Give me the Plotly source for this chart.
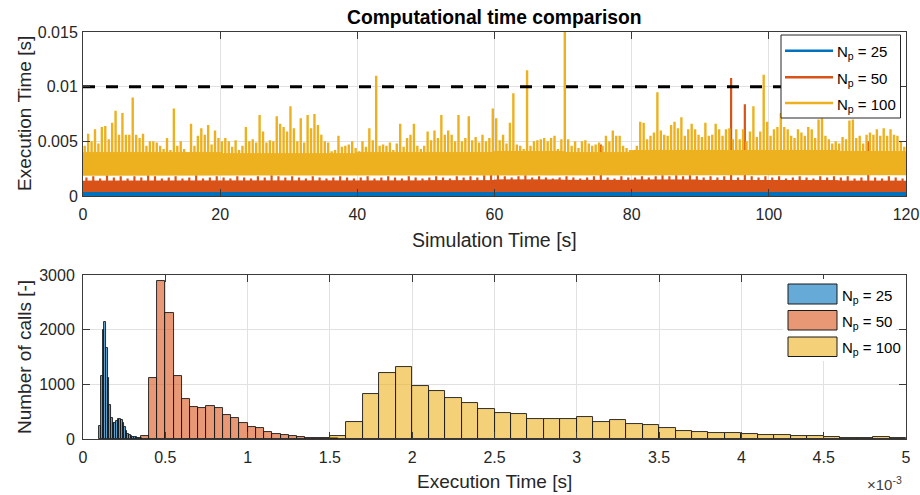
import numpy as np
import plotly.graph_objects as go

# ====================== DATA ======================
# Top panel: execution time per call vs. simulation time (values in ms,
# read off the picture as per-bin envelopes of the dense series)
sim_end_s = 120
block_s = 10                 # block length for the dense band limits
np100_bin_s = 0.5            # peak bins
np50_bin_s = 1.0
np25_bin_s = 2.0

np100_peak_ms = [
    4.6, 5.7, 5.0, 6.1, 4.8, 6.3, 6.4, 5.2, 6.7, 7.8,
    5.6, 7.6, 5.6, 5.6, 9.0, 5.6, 5.3, 5.7, 4.6, 5.0,
    5.0, 4.9, 4.6, 4.3, 5.3, 4.2, 8.0, 4.6, 5.0, 4.3,
    4.0, 6.6, 4.6, 5.5, 6.2, 5.6, 6.5, 4.7, 6.0, 5.3,
    5.0, 5.3, 5.0, 4.5, 5.1, 4.2, 4.6, 6.3, 5.0, 5.2,
    4.9, 7.4, 5.9, 4.9, 5.1, 5.0, 7.3, 6.6, 6.3, 5.9,
    8.2, 6.2, 5.0, 7.1, 4.9, 7.4, 6.2, 7.5, 6.5, 5.6,
    5.0, 4.9, 4.1, 4.2, 5.5, 4.5, 4.6, 4.7, 5.0, 4.4,
    4.1, 5.0, 4.5, 6.2, 5.1, 11.0, 4.6, 4.7, 4.6, 4.9,
    4.2, 4.8, 6.6, 4.5, 5.3, 5.6, 6.6, 4.6, 4.3, 4.6,
    5.9, 5.1, 6.0, 5.3, 7.4, 5.6, 6.0, 5.6, 5.0, 7.4,
    5.0, 5.3, 7.3, 5.1, 5.4, 4.9, 5.6, 5.0, 5.3, 8.0,
    7.1, 5.1, 5.6, 4.8, 6.7, 9.4, 4.7, 4.6, 4.3, 11.5,
    4.6, 5.0, 5.1, 5.2, 5.3, 5.0, 5.3, 5.5, 4.3, 5.2,
    15.2, 5.2, 4.6, 5.0, 4.4, 5.0, 5.1, 4.8, 4.6, 4.7,
    4.9, 4.6, 5.5, 5.0, 6.0, 5.5, 5.5, 4.6, 4.4, 4.2,
    4.1, 4.6, 6.8, 6.7, 5.2, 5.5, 5.8, 9.5, 6.0, 5.6,
    5.5, 6.5, 6.8, 6.2, 7.2, 5.5, 6.1, 6.6, 6.1, 5.6,
    5.4, 6.7, 5.5, 5.6, 6.6, 6.1, 5.5, 6.1, 6.2, 5.2,
    6.1, 5.2, 6.1, 5.0, 5.9, 8.2, 5.4, 5.9, 11.1, 6.8,
    5.5, 6.1, 6.3, 7.6, 6.3, 6.1, 5.5, 5.3, 6.1, 5.8,
    5.5, 6.3, 6.1, 5.3, 7.0, 7.1, 5.5, 5.2, 4.8, 5.0,
    4.8, 5.4, 5.2, 6.9, 7.0, 5.3, 5.5, 4.8, 5.6, 5.8,
    5.6, 6.1, 5.5, 6.2, 5.5, 6.1, 5.6, 5.5, 5.0, 4.5,
]
np100_dense_ms = [3.9, 3.9, 3.8, 3.8, 3.9, 3.9, 4.0, 3.9, 4.1, 4.1, 4.1, 4.0]
np100_low_ms = [1.95, 1.95, 1.95, 1.95, 1.95, 1.95, 2.0, 2.0, 2.0, 2.0, 2.0, 2.0]

np50_peak_ms = [
    1.7, 1.8, 1.6, 1.9, 1.7, 1.8, 1.6, 1.8, 1.7, 1.9,
    1.8, 1.6, 1.7, 1.8, 1.6, 1.7, 1.9, 1.6, 1.7, 1.8,
    1.7, 1.6, 1.8, 1.7, 1.6, 1.8, 1.7, 1.9, 1.8, 1.7,
    1.8, 1.7, 1.6, 1.8, 1.7, 1.6, 1.7, 1.8, 1.7, 1.6,
    1.7, 1.8, 1.6, 1.7, 1.8, 1.7, 1.6, 1.8, 1.7, 1.6,
    1.7, 1.8, 1.7, 1.6, 1.8, 1.7, 1.8, 1.7, 1.9, 2.0,
    2.0, 1.8, 1.7, 1.8, 1.9, 1.7, 1.8, 1.7, 1.6, 1.7,
    1.8, 1.7, 1.6, 1.7, 1.8, 4.7, 1.7, 1.6, 1.8, 1.7,
    1.7, 1.8, 1.7, 1.8, 1.9, 1.8, 1.9, 1.8, 1.9, 1.8,
    1.7, 1.8, 1.7, 1.8, 10.8, 1.7, 8.4, 1.8, 1.7, 1.8,
    1.7, 1.8, 1.6, 1.7, 1.8, 1.7, 1.6, 1.8, 1.7, 1.8,
    1.7, 1.8, 1.6, 1.7, 5.0, 1.7, 1.6, 1.8, 1.7, 1.6,
]
np50_dense_ms = [1.3, 1.3, 1.3, 1.3, 1.3, 1.35, 1.4, 1.35, 1.4, 1.35, 1.35, 1.3]
np50_low_ms = [0.45, 0.45, 0.45, 0.45, 0.45, 0.45, 0.45, 0.45, 0.45, 0.45, 0.45, 0.45]

np25_peak_ms = [
    0.40, 0.35, 0.40, 0.38, 0.42, 0.36, 0.40, 0.38, 0.35, 0.40,
    0.42, 0.38, 0.36, 0.40, 0.45, 0.38, 0.36, 0.40, 0.38, 0.35,
    0.40, 0.38, 0.36, 0.40, 0.38, 0.42, 0.40, 0.38, 0.45, 0.55,
    0.70, 0.50, 0.40, 0.38, 0.40, 0.36, 0.38, 0.40, 0.42, 0.38,
    0.40, 0.36, 0.42, 0.40, 0.38, 0.45, 0.40, 0.38, 0.36, 0.40,
    0.38, 0.40, 0.42, 0.38, 0.36, 0.40, 0.38, 0.42, 0.38, 0.36,
]
np25_dense_ms = [0.28, 0.28, 0.28, 0.28, 0.28, 0.30, 0.30, 0.28, 0.28, 0.28, 0.28, 0.28]
np25_low_ms = [0.08, 0.08, 0.08, 0.08, 0.08, 0.08, 0.08, 0.08, 0.08, 0.08, 0.08, 0.08]

limit_s = 0.01

# Bottom panel: histograms of execution time (bin edges in ms)
hist25_start_ms, hist25_width_ms = 0.10, 0.01
hist25_counts = [240, 1150, 1990, 2140, 1660, 1110, 630, 390, 300, 300,
                 330, 360, 370, 340, 290, 220, 150, 100, 70, 50,
                 40, 35, 30, 25, 20, 15]
hist50_start_ms, hist50_width_ms = 0.35, 0.05
hist50_counts = [60, 1125, 2890, 2300, 1145, 735, 577, 560, 600, 560,
                 437, 376, 291, 219, 194, 121, 85, 67, 49, 36,
                 22, 15, 15, 10]
hist100_start_ms, hist100_width_ms = 1.5, 0.1
hist100_counts = [55, 304, 820, 1214, 1318, 978, 886, 747, 650, 553,
                  468, 450, 370, 370, 370, 395, 316, 340, 267, 249,
                  194, 146, 121, 109, 109, 91, 73, 73, 55, 55,
                  36, 18, 18, 36, 12]

labels = ["N<sub>p</sub> = 25", "N<sub>p</sub> = 50", "N<sub>p</sub> = 100"]
x1_ticks = [0, 20, 40, 60, 80, 100, 120]
y1_ticks = [0, 0.005, 0.01, 0.015]
y1_ticktext = ["0", "0.005", "0.01", "0.015"]
x2_ticks = [0, 0.5, 1, 1.5, 2, 2.5, 3, 3.5, 4, 4.5, 5]
x2_ticktext = ["0", "0.5", "1", "1.5", "2", "2.5", "3", "3.5", "4", "4.5", "5"]
y2_ticks = [0, 1000, 2000, 3000]

# ====================== STYLE ======================
C_BLUE, C_ORANGE, C_YELLOW = "#0072BD", "#D95319", "#EDB120"
F_BLUE, F_ORANGE, F_YELLOW = ("rgba(0,114,189,0.6)", "rgba(217,83,25,0.6)",
                              "rgba(237,177,32,0.6)")
FONT = "Liberation Sans, Arial, Helvetica, sans-serif"
TXT = "#262626"
W, H = 920, 495
ML, MR, MT, MB = 83, 14, 32, 56
PW, PH = W - ML - MR, H - MT - MB


def px(xp):  # page pixel -> paper x
    return (xp - ML) / PW


def py(yp):  # page pixel -> paper y
    return (H - MB - yp) / PH


ms = 1e-3
fig = go.Figure()


def band(low, dense, color):
    edges = np.arange(len(low) + 1) * block_s
    xs = np.column_stack([edges[:-1], edges[1:]]).ravel()
    up = np.repeat(np.asarray(dense) * ms, 2)
    lo = np.repeat(np.asarray(low) * ms, 2)
    fig.add_trace(go.Scatter(
        x=np.concatenate([xs, xs[::-1]]), y=np.concatenate([up, lo[::-1]]),
        fill="toself", fillcolor=color, mode="lines",
        line=dict(color=color, width=2), showlegend=False, hoverinfo="skip"))


def spikes(peaks, bin_s, dense, color, width):
    centers = (np.arange(len(peaks)) + 0.5) * bin_s
    base = np.asarray(dense)[(centers // block_s).astype(int)] * ms
    xs = np.repeat(centers, 3)
    ys = np.column_stack([base, np.asarray(peaks) * ms, base]).ravel()
    fig.add_trace(go.Scatter(x=xs, y=ys, mode="lines",
                             line=dict(color=color, width=width),
                             showlegend=False, hoverinfo="skip"))


band(np25_low_ms, np25_dense_ms, C_BLUE)
spikes(np25_peak_ms, np25_bin_s, np25_dense_ms, C_BLUE, 2)
band(np50_low_ms, np50_dense_ms, C_ORANGE)
spikes(np50_peak_ms, np50_bin_s, np50_dense_ms, C_ORANGE, 2.2)
band(np100_low_ms, np100_dense_ms, C_YELLOW)
spikes(np100_peak_ms, np100_bin_s, np100_dense_ms, C_YELLOW, 2.4)

fig.add_trace(go.Scatter(x=[0, sim_end_s], y=[limit_s, limit_s], mode="lines",
                         line=dict(color="black", width=3, dash="12px,11px"),
                         showlegend=False, hoverinfo="skip"))

# histograms
for start, width, counts, fc in [
        (hist25_start_ms, hist25_width_ms, hist25_counts, F_BLUE),
        (hist50_start_ms, hist50_width_ms, hist50_counts, F_ORANGE),
        (hist100_start_ms, hist100_width_ms, hist100_counts, F_YELLOW)]:
    centers = start + (np.arange(len(counts)) + 0.5) * width
    fig.add_trace(go.Bar(x=centers, y=counts, width=width, xaxis="x2", yaxis="y2",
                         marker=dict(color=fc, line=dict(color="#1a1a1a", width=0.9)),
                         showlegend=False, hoverinfo="skip"))

axis_common = dict(showline=True, linecolor="#3a3a3a", linewidth=1, mirror="ticks",
                   ticks="inside", ticklen=7, tickcolor="#3a3a3a", automargin=False,
                   showgrid=True, gridcolor="#e1e1e1", gridwidth=1, zeroline=False,
                   tickfont=dict(family=FONT, size=16, color=TXT))

top_lo, top_hi = py(196), 1.0
bot_lo, bot_hi = 0.0, py(275)

fig.update_layout(
    width=W, height=H, autosize=False,
    margin=dict(l=ML, r=MR, t=MT, b=MB, autoexpand=False),
    paper_bgcolor="white", plot_bgcolor="white", barmode="overlay", bargap=0,
    showlegend=False, font=dict(family=FONT, color=TXT, size=16),
    xaxis=dict(axis_common, domain=[0, 1], range=[0, sim_end_s], tickvals=x1_ticks,
               anchor="y", ticklabelstandoff=4),
    yaxis=dict(axis_common, domain=[top_lo, top_hi], range=[0, 0.015],
               tickvals=y1_ticks, ticktext=y1_ticktext, anchor="x", ticklabelstandoff=1),
    xaxis2=dict(axis_common, domain=[0, 1], range=[0, 5], tickvals=x2_ticks,
                ticktext=x2_ticktext, anchor="y2", ticklabelstandoff=4),
    yaxis2=dict(axis_common, domain=[bot_lo, bot_hi], range=[0, 3000],
                tickvals=y2_ticks, anchor="x2", ticklabelstandoff=4),
)

ann = []


def text(x, y, s, size, **kw):
    d = dict(xref="paper", yref="paper", x=x, y=y, text=s, showarrow=False,
             font=dict(family=FONT, size=size, color=kw.pop("color", TXT)))
    d.update(kw)
    ann.append(d)


text(px(494.5), py(17.5), "<b>Computational time comparison</b>", 19.3,
     color="black", xanchor="center", yanchor="middle")
text(px(494.5), py(240), "Simulation Time [s]", 19.5, xanchor="center", yanchor="middle")
text(px(494.5), py(481), "Execution Time [s]", 19, xanchor="center", yanchor="middle")
text(px(24), py(114), "Execution Time [s]", 19, textangle=-90,
     xanchor="center", yanchor="middle")
text(px(24), py(357), "Number of calls [-]", 19, textangle=-90,
     xanchor="center", yanchor="middle")
text(px(904), py(483), "\u00d710<sup>-3</sup>", 15, xanchor="right", yanchor="middle",
     color="#404040")

shapes = []
# top legend (lines)
shapes.append(dict(type="rect", xref="paper", yref="paper", layer="above",
                   x0=px(781), x1=px(900.5), y0=py(118), y1=py(35),
                   fillcolor="white", line=dict(color="#262626", width=1)))
for yy, col, lab in zip([50.7, 77.3, 103], [C_BLUE, C_ORANGE, C_YELLOW], labels):
    shapes.append(dict(type="line", xref="paper", yref="paper", layer="above",
                       x0=px(785), x1=px(833), y0=py(yy), y1=py(yy),
                       line=dict(color=col, width=2.5)))
    text(px(835), py(yy + 2), lab, 15, xanchor="left", yanchor="middle", color="black")

# bottom legend (patches)
shapes.append(dict(type="rect", xref="paper", yref="paper", layer="above",
                   x0=px(783), x1=px(896), y0=py(361), y1=py(279),
                   fillcolor="white", line=dict(width=0)))
for (y0, y1), fc, lab in zip([(284, 304), (310.5, 330), (337, 356.5)],
                             [F_BLUE, F_ORANGE, F_YELLOW], labels):
    shapes.append(dict(type="rect", xref="paper", yref="paper", layer="above",
                       x0=px(788), x1=px(837), y0=py(y1), y1=py(y0),
                       fillcolor=fc, line=dict(color="#1a1a1a", width=1)))
    text(px(840), py((y0 + y1) / 2 + 2), lab, 15, xanchor="left", yanchor="middle",
         color="black")

fig.update_layout(annotations=ann, shapes=shapes)
fig.write_html("out.html", config={"displayModeBar": False},
               post_script="document.body.style.margin='0px';"
                           "document.body.style.overflow='hidden';")
